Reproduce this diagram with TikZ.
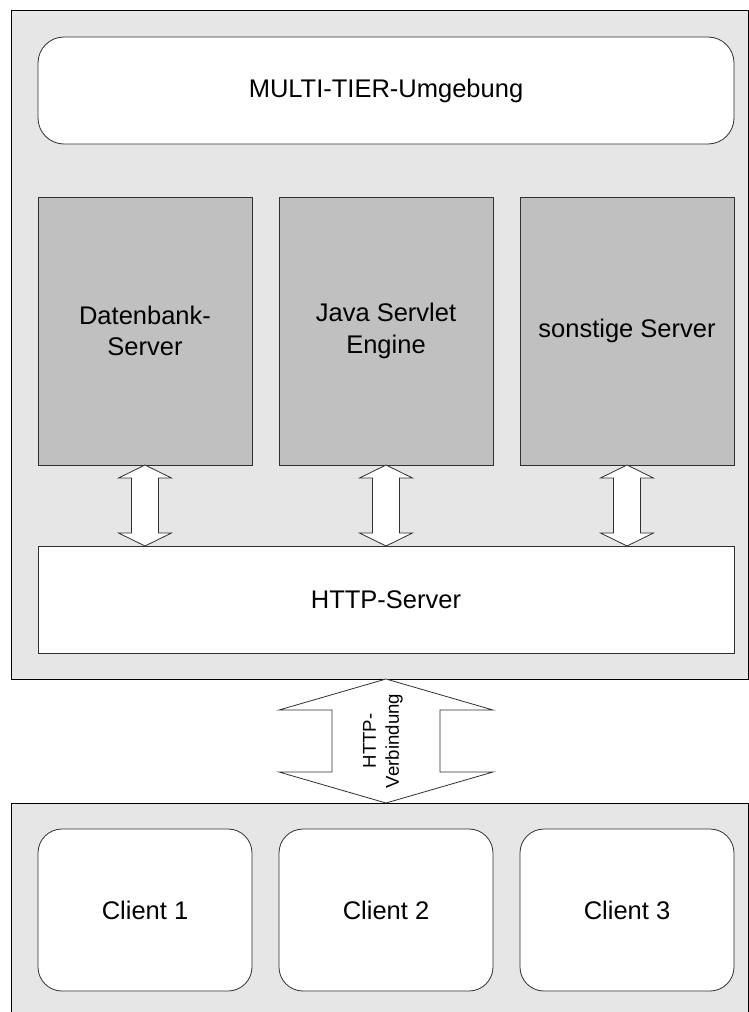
\documentclass[tikz,border=0pt]{standalone}
\usepackage{fontspec}
\setmainfont{Liberation Sans}
\usetikzlibrary{calc}
\definecolor{zonegray}{HTML}{E6E6E6}
\definecolor{servergray}{HTML}{C0C0C0}
\definecolor{edgegray}{HTML}{303030}

% two-headed block arrow from #1 (upper tip) to #2 (lower tip);
% #3 head length, #4 head half-width, #5 shaft half-width
\newcommand\twowayarrow[5]{%
  \draw[blockarrow] (#1) -- ($(#1)+(#4,#3)$) -- ($(#1)+(#5,#3)$)
    -- ($(#2)+(#5,-#3)$) -- ($(#2)+(#4,-#3)$) -- (#2)
    -- ($(#2)+(-#4,-#3)$) -- ($(#2)+(-#5,-#3)$)
    -- ($(#1)+(-#5,#3)$) -- ($(#1)+(-#4,#3)$) -- cycle;}

\begin{document}
\begin{tikzpicture}[x=1pt,y=-1pt,
  every node/.style={inner sep=0pt, outer sep=0pt},
  zone/.style={draw=black, fill=zonegray, line width=0.8pt, anchor=north west,
    minimum width=737pt},
  panel/.style={draw=edgegray, fill=white, line width=0.8pt, anchor=north west,
    font=\fontsize{25.5}{31.7}\selectfont, align=center},
  roundpanel/.style={panel, rounded corners=26pt},
  server/.style={panel, fill=servergray, minimum width=214pt, minimum height=268pt},
  client/.style={panel, rounded corners=24pt, minimum width=214pt, minimum height=162pt},
  blockarrow/.style={draw=edgegray, fill=white, line width=0.8pt, line join=miter},
  arrowtext/.style={rotate=90, font=\fontsize{18.6}{23}\selectfont, align=center}]

  \useasboundingbox (0,0) rectangle (749,1012);

  % environment zones
  \node[zone, minimum height=669pt] (env) at (11,10) {};
  \node[zone, minimum height=214pt] (clients) at (11,803) {};

  % multi-tier environment
  \node[roundpanel, minimum width=696pt, minimum height=107pt] (multi) at (38,37)
    {MULTI-TIER-Umgebung};
  \node[server] (db) at (38,197) {Datenbank-\\Server};
  \node[server] (java) at (279,197) {Java Servlet\\Engine};
  \node[server] (other) at (520,197) {sonstige Server};
  \node[panel, minimum width=696pt, minimum height=107pt] (http) at (38,546)
    {HTTP-Server};

  % clients
  \node[client] (c1) at (38,829) {Client 1};
  \node[client] (c2) at (279,829) {Client 2};
  \node[client] (c3) at (520,829) {Client 3};

  % server <-> HTTP server
  \coordinate (dbend) at (db.south |- http.north);
  \coordinate (javaend) at (java.south |- http.north);
  \coordinate (otherend) at (other.south |- http.north);
  \twowayarrow{db.south}{dbend}{13}{26.5}{13.5}
  \twowayarrow{java.south}{javaend}{13}{26.5}{13.5}
  \twowayarrow{other.south}{otherend}{13}{26.5}{13.5}

  % HTTP connection between the zones
  \coordinate (linktop) at (java.south |- env.south);
  \coordinate (linkbot) at (java.south |- clients.north);
  \twowayarrow{linktop}{linkbot}{31}{107}{54}
  \coordinate (linkmid) at ($(linktop)!0.5!(linkbot)+(-3,0)$);
  \node[arrowtext] (linklabel) at (linkmid) {HTTP-\\Verbindung};
\end{tikzpicture}
\end{document}
